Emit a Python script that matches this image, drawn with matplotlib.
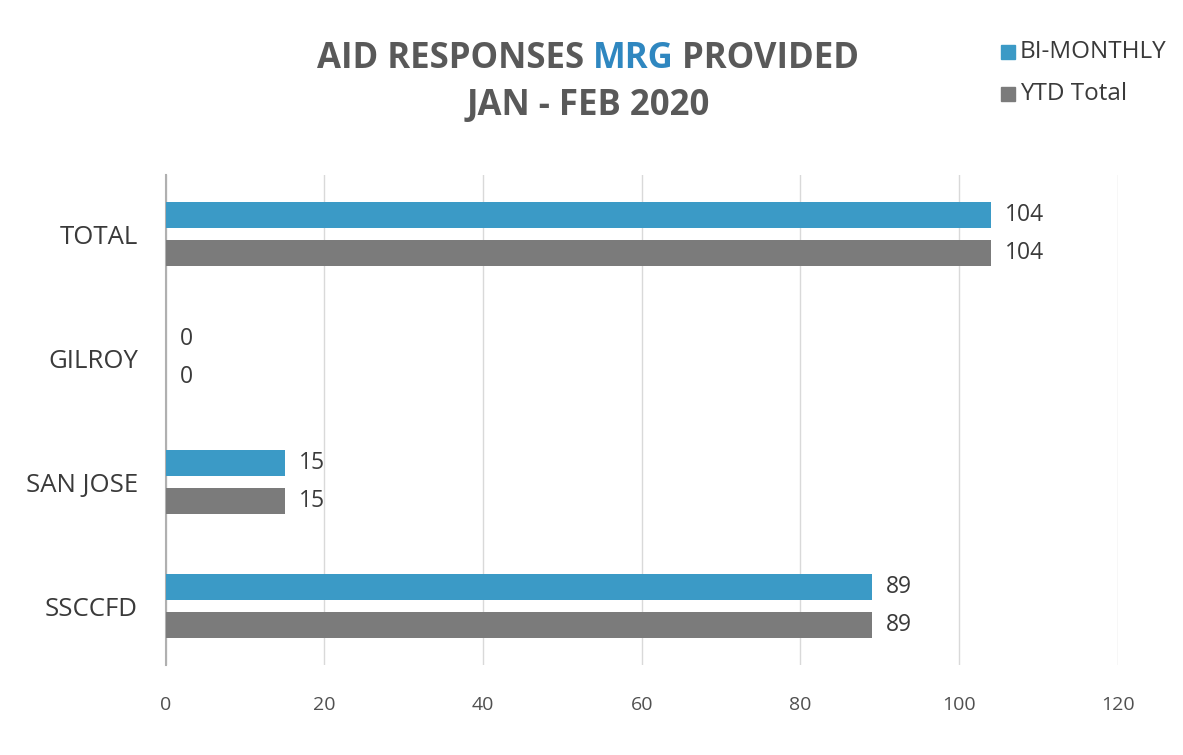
import matplotlib
matplotlib.use("Agg")
import matplotlib.pyplot as plt
from matplotlib.patches import Rectangle
import numpy as np

categories = ["SSCCFD", "SAN JOSE", "GILROY", "TOTAL"]
bi_monthly = [89, 15, 0, 104]
ytd_total = [89, 15, 0, 104]
series_names = ["BI-MONTHLY", "YTD Total"]
xticks = [0, 20, 40, 60, 80, 100, 120]

BLUE = "#3b9ac6"
GRAY = "#7b7b7b"
TXT = "#3a3a3a"
FONT = "Open Sans"

plt.rcParams['font.family'] = [FONT, 'DejaVu Sans']

fig = plt.figure(figsize=(11.83, 7.55), dpi=100)
ax = fig.add_axes([0.140, 0.119, 0.805, 0.649])

y = np.arange(len(categories))
h = 0.21
off = 0.155
ax.barh(y + off, bi_monthly, height=h, color=BLUE, zorder=3)
ax.barh(y - off, ytd_total, height=h, color=GRAY, zorder=3)

for yi, v in zip(y, bi_monthly):
    ax.annotate(str(v), (v, yi + off), xytext=(10, 0), textcoords="offset points",
                va="center", ha="left", fontsize=16.5, color=TXT)
for yi, v in zip(y, ytd_total):
    ax.annotate(str(v), (v, yi - off), xytext=(10, 0), textcoords="offset points",
                va="center", ha="left", fontsize=16.5, color=TXT)

ax.set_xlim(0, 120)
ax.set_ylim(-0.475, 3.475)
ax.set_xticks(xticks)
ax.set_xticklabels([str(t) for t in xticks], fontsize=14, color="#505050")
ax.set_yticks(y)
ax.set_yticklabels(categories, fontsize=18.5, color=TXT)
ax.tick_params(axis="both", length=0)
ax.tick_params(axis="x", pad=22)
ax.tick_params(axis="y", pad=20)
ax.grid(axis="x", color="#d9d9d9", linewidth=1, zorder=0)
for s in ["top", "right", "bottom"]:
    ax.spines[s].set_visible(False)
ax.spines["left"].set_color("#b0b0b0")
ax.spines["left"].set_linewidth(1.5)

# Title with coloured word
fig.canvas.draw()
renderer = fig.canvas.get_renderer()
parts = [("AID RESPONSES ", "#595959"), ("MRG", "#2f87c0"), (" PROVIDED", "#595959")]
tkw = dict(fontsize=25, fontweight="bold", va="center", ha="left")
widths = []
for s, c in parts:
    t = fig.text(0, 0, s, **tkw)
    bb = t.get_window_extent(renderer=renderer)
    widths.append(bb.width)
    t.remove()
total = sum(widths)
cx = 588 / 1183
x0 = cx - total / 2 / 1183
ty = 1 - 59 / 755
for (s, c), w in zip(parts, widths):
    fig.text(x0, ty, s, color=c, **tkw)
    x0 += w / 1183
fig.text(cx, 1 - 106 / 755, "JAN - FEB 2020", color="#595959", fontsize=25,
         fontweight="bold", va="center", ha="center")

# Legend
for i, (name, col) in enumerate(zip(series_names, [BLUE, GRAY])):
    yy = 1 - (52 + 42 * i) / 755
    fig.patches.append(Rectangle((1001 / 1183, yy - 7 / 755), 14 / 1183, 14 / 755,
                                 transform=fig.transFigure, color=col))
    fig.text(1020 / 1183, yy, name, fontsize=17.5, color=TXT, va="center", ha="left")

fig.savefig("out.png", dpi=100)
